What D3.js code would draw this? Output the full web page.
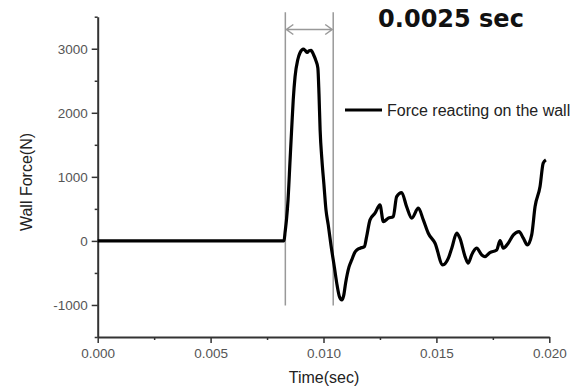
<!DOCTYPE html>
<html>
<head>
<meta charset="utf-8">
<script src="https://cdn.jsdelivr.net/npm/d3@7"></script>
<style>
  body { margin: 0; background: #fff; }
  svg { display: block; }
</style>
</head>
<body>
<div id="chart"></div>
<script>
// wall force trace (time in sec, force in N)
const times = [
  0, 0.00825, 0.00830, 0.00836, 0.00843, 0.00852, 0.00860, 0.00866, 0.00874, 0.00886,
  0.00896, 0.00911, 0.00918, 0.00928, 0.00936, 0.00945, 0.00956, 0.00965, 0.00975, 0.00980,
  0.00985, 0.00993, 0.01002, 0.01011, 0.01021, 0.01033, 0.01048, 0.01060, 0.01071, 0.01081,
  0.01089, 0.01098, 0.01113, 0.01125, 0.01140, 0.01148, 0.01162, 0.01181, 0.01191, 0.01206,
  0.01228, 0.01250, 0.01265, 0.01287, 0.01309, 0.01324, 0.01346, 0.01368, 0.01391, 0.01420,
  0.01442, 0.01464, 0.01494, 0.01528, 0.01553, 0.01568, 0.01590, 0.01604, 0.01627, 0.01641,
  0.01656, 0.01678, 0.01701, 0.01715, 0.01737, 0.01767, 0.01782, 0.01796, 0.01818, 0.01841,
  0.01866, 0.01885, 0.01903, 0.01922, 0.01937, 0.01959, 0.01973, 0.01985
];
const forces = [
  0, 0, 141, 328, 641, 1266, 1813, 2203, 2563, 2828,
  2938, 2995, 2977, 2942, 2969, 2973, 2906, 2828, 2700, 2300,
  1734, 1266, 875, 484, 250, -63, -406, -688, -875, -922,
  -859, -656, -406, -297, -172, -141, -114, -89, 67, 328,
  433, 563, 302, 355, 380, 692, 755, 536, 355, 511,
  328, 120, -36, -375, -270, -114, 120, 42, -245, -348,
  -219, -114, -219, -245, -183, -141, 5, -114, -36, 94,
  145, 42, -63, 94, 536, 848, 1214, 1266
];

const xTicks = [0, 0.005, 0.010, 0.015, 0.020];
const xMinorTicks = [0.0025, 0.0075, 0.0125, 0.0175];
const yTicks = [-1000, 0, 1000, 2000, 3000];
const yMinorTicks = [-1500, -500, 500, 1500, 2500, 3500];

// the two marker lines bounding the impact pulse
const pulseStart = 0.00831;
const pulseEnd = 0.01043;
const pulseLabel = '0.0025 sec';
const seriesName = 'Force reacting on the wall';

const width = 583;
const height = 388;
const margin = { top: 16.7, right: 33.7, bottom: 51, left: 97.7 };

const svg = d3.select('#chart').append('svg').attr('width', width).attr('height', height);

const x = d3.scaleLinear().domain([0, 0.02]).range([margin.left, width - margin.right]);
const y = d3.scaleLinear().domain([-1500, 3500]).range([height - margin.bottom, margin.top]);

const tickFont = '13.5px "Liberation Sans", Arial, sans-serif';
const axisColor = '#333';

// minor ticks first
svg.append('g')
  .attr('transform', `translate(0,${height - margin.bottom})`)
  .call(d3.axisBottom(x).tickValues(xMinorTicks).tickSize(3).tickFormat(''))
  .call((g) => g.select('.domain').remove())
  .call((g) => g.selectAll('line').attr('stroke', axisColor).attr('stroke-width', 1.5));

svg.append('g')
  .attr('transform', `translate(${margin.left},0)`)
  .call(d3.axisLeft(y).tickValues(yMinorTicks).tickSize(3).tickFormat(''))
  .call((g) => g.select('.domain').remove())
  .call((g) => g.selectAll('line').attr('stroke', axisColor).attr('stroke-width', 1.5));

// major axes
const xAxis = svg.append('g')
  .attr('transform', `translate(0,${height - margin.bottom})`)
  .call(d3.axisBottom(x).tickValues(xTicks).tickSize(6).tickSizeOuter(0).tickPadding(5).tickFormat(d3.format('.3f')));

const yAxis = svg.append('g')
  .attr('transform', `translate(${margin.left},0)`)
  .call(d3.axisLeft(y).tickValues(yTicks).tickSize(6).tickSizeOuter(0).tickPadding(4).tickFormat((d) => String(d)));

[xAxis, yAxis].forEach((g) => {
  g.select('.domain').attr('stroke', axisColor).attr('stroke-width', 2);
  g.selectAll('.tick line').attr('stroke', axisColor).attr('stroke-width', 1.5);
  g.selectAll('.tick text').style('font', tickFont).attr('fill', '#555');
});

// axis titles
svg.append('text')
  .attr('x', (margin.left + width - margin.right) / 2 + 0.5)
  .attr('y', 383)
  .attr('text-anchor', 'middle')
  .style('font', '16px "Liberation Sans", Arial, sans-serif')
  .attr('fill', '#222')
  .text('Time(sec)');

svg.append('text')
  .attr('transform', 'translate(32,182) rotate(-90)')
  .attr('text-anchor', 'middle')
  .style('font', '16px "Liberation Sans", Arial, sans-serif')
  .attr('fill', '#222')
  .text('Wall Force(N)');

// pulse markers
const markerTop = 3570;
const markerBottom = -1010;
svg.append('g')
  .selectAll('line')
  .data([pulseStart, pulseEnd])
  .enter()
  .append('line')
  .attr('x1', (d) => x(d))
  .attr('x2', (d) => x(d))
  .attr('y1', y(markerTop))
  .attr('y2', y(markerBottom))
  .attr('stroke', '#999')
  .attr('stroke-width', 1.5);

const arrowY = y(3300);
const x0 = x(pulseStart) + 1;
const x1 = x(pulseEnd) - 1;
svg.append('path')
  .attr('d', `M${x0},${arrowY}H${x1}M${x0 + 7},${arrowY - 5}L${x0},${arrowY}L${x0 + 7},${arrowY + 5}M${x1 - 7},${arrowY - 5}L${x1},${arrowY}L${x1 - 7},${arrowY + 5}`)
  .attr('fill', 'none')
  .attr('stroke', '#999')
  .attr('stroke-width', 1.5);

svg.append('text')
  .attr('x', 451)
  .attr('y', 27)
  .attr('text-anchor', 'middle')
  .style('font', 'bold 24px "DejaVu Sans", sans-serif')
  .attr('fill', '#111')
  .text(pulseLabel);

// force curve
const points = times.map((t, i) => [t, forces[i]]);
svg.append('path')
  .datum(points)
  .attr('fill', 'none')
  .attr('stroke', '#000')
  .attr('stroke-width', 3.2)
  .attr('stroke-linejoin', 'round')
  .attr('d', d3.line().curve(d3.curveMonotoneX).x((d) => x(d[0])).y((d) => y(d[1])));

// legend
svg.append('line')
  .attr('x1', 345)
  .attr('x2', 382)
  .attr('y1', 110)
  .attr('y2', 110)
  .attr('stroke', '#000')
  .attr('stroke-width', 3);

svg.append('text')
  .attr('x', 387)
  .attr('y', 115.5)
  .style('font', '16px "Liberation Sans", Arial, sans-serif')
  .attr('fill', '#222')
  .text(seriesName);
</script>
</body>
</html>
